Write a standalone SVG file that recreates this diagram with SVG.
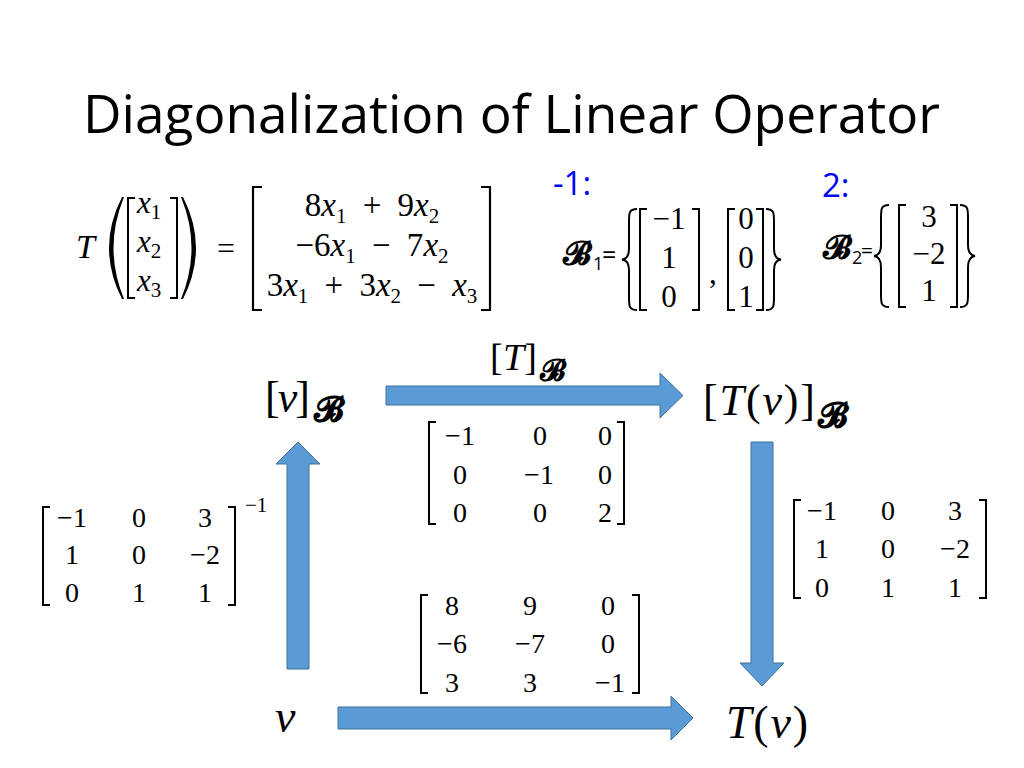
<svg xmlns="http://www.w3.org/2000/svg" width="1024" height="768" viewBox="0 0 1024 768">
<style>
.m{font-family:"Liberation Serif","DejaVu Serif",serif;fill:#000}
.i{font-style:italic}
.s{font-size:21px}
.cal{font-family:"Open Sans","Liberation Sans",sans-serif;fill:#000}
.blue{fill:#0000FF}
.sb{font-family:"DejaVu Sans","DejaVu Serif",serif;font-weight:bold;fill:#000}
.br{fill:none;stroke:#000;stroke-width:2}
.bb{fill:none;stroke:#000;stroke-width:2.2}
.arrow{fill:#5B9BD5;stroke:#41719C;stroke-width:1}
.c{text-anchor:middle}
.row{word-spacing:8px}
</style>
<rect width="1024" height="768" fill="#fff"/>
<g id="title">
<text class="cal" x="83" y="133" font-size="53" textLength="857" lengthAdjust="spacingAndGlyphs">Diagonalization of Linear Operator</text>
</g>
<g id="equation">
<text class="m i" x="76" y="258" font-size="34">T</text>
<path d="M122,197 Q96,248 122,299 L124,299 Q103,248 124,197 Z" fill="#000"/>
<path d="M183,197 Q209,248 183,299 L181,299 Q202,248 181,197 Z" fill="#000"/>
<path class="br" d="M135,198 L128,198 L128,298 L135,298"/>
<path class="br" d="M170,198 L177,198 L177,298 L170,298"/>
<text class="m" x="137" y="213" font-size="31"><tspan class="i">x</tspan><tspan class="s" dy="6">1</tspan></text>
<text class="m" x="137" y="252" font-size="31"><tspan class="i">x</tspan><tspan class="s" dy="6">2</tspan></text>
<text class="m" x="137" y="291" font-size="31"><tspan class="i">x</tspan><tspan class="s" dy="6">3</tspan></text>
<text class="m" x="217" y="259" font-size="32">=</text>
<path class="bb" d="M262,187 L253,187 L253,310 L262,310"/>
<path class="bb" d="M481,187 L490,187 L490,310 L481,310"/>
<text class="m c row" x="372" y="216" font-size="33">8<tspan class="i">x</tspan><tspan class="s" dy="7">1</tspan><tspan dy="-7"> + 9</tspan><tspan class="i">x</tspan><tspan class="s" dy="7">2</tspan></text>
<text class="m c row" x="372" y="256" font-size="33">−6<tspan class="i">x</tspan><tspan class="s" dy="7">1</tspan><tspan dy="-7"> − 7</tspan><tspan class="i">x</tspan><tspan class="s" dy="7">2</tspan></text>
<text class="m c row" x="372" y="296" font-size="33">3<tspan class="i">x</tspan><tspan class="s" dy="7">1</tspan><tspan dy="-7"> + 3</tspan><tspan class="i">x</tspan><tspan class="s" dy="7">2</tspan><tspan dy="-7"> − </tspan><tspan class="i">x</tspan><tspan class="s" dy="7">3</tspan></text>
</g>
<g id="eigen-minus1">
<text class="cal blue" x="553" y="195" font-size="33">-1:</text>
<text class="sb" x="563" y="264" font-size="32">𝓑</text>
<text class="cal" x="593" y="270" font-size="18">1</text>
<text class="cal" x="602" y="264" font-size="25">=</text>
<path class="br" d="M637,209 C629,209 629,213 629,222 L629,249 C629,256 626,259 622,259.5 C626,260 629,263 629,270 L629,297 C629,306 629,310 637,310"/>
<path class="br" d="M647,209 L640,209 L640,310 L647,310"/>
<path class="br" d="M692,209 L699,209 L699,310 L692,310"/>
<text class="m c" x="669" y="229" font-size="31">−1</text>
<text class="m c" x="669" y="268" font-size="31">1</text>
<text class="m c" x="669" y="307" font-size="31">0</text>
<text class="m" x="709" y="283" font-size="31">,</text>
<path class="br" d="M735,209 L728,209 L728,310 L735,310"/>
<path class="br" d="M756,209 L763,209 L763,310 L756,310"/>
<text class="m c" x="746" y="229" font-size="31">0</text>
<text class="m c" x="746" y="268" font-size="31">0</text>
<text class="m c" x="746" y="307" font-size="31">1</text>
<path class="br" d="M766,209 C774,209 774,213 774,222 L774,249 C774,256 777,259 781,259.5 C777,260 774,263 774,270 L774,297 C774,306 774,310 766,310"/>
</g>
<g id="eigen-2">
<text class="cal blue" x="822" y="197" font-size="33">2:</text>
<text class="sb" x="823" y="258" font-size="32">𝓑</text>
<text class="cal" x="852" y="264" font-size="18">2</text>
<text class="cal" x="861" y="258" font-size="21">=</text>
<path class="br" d="M889,205 C881,205 881,209 881,218 L881,245 C881,252 878,255.5 874,256 C878,256.5 881,260 881,267 L881,294 C881,303 881,307 889,307"/>
<path class="br" d="M906,205 L899,205 L899,307 L906,307"/>
<path class="br" d="M950,205 L957,205 L957,307 L950,307"/>
<text class="m c" x="929" y="227" font-size="31">3</text>
<text class="m c" x="929" y="264" font-size="31">−2</text>
<text class="m c" x="929" y="301" font-size="31">1</text>
<path class="br" d="M960,205 C968,205 968,209 968,218 L968,245 C968,252 971,255.5 975,256 C971,256.5 968,260 968,267 L968,294 C968,303 968,307 960,307"/>
</g>
<g id="node-vB">
<text class="m" x="265" y="412" font-size="44" textLength="45" lengthAdjust="spacing">[<tspan class="i">v</tspan>]</text>
<text class="sb" x="314" y="421" font-size="34">𝓑</text>
</g>
<g id="node-TvB">
<text class="m" x="703" y="415" font-size="44" textLength="112" lengthAdjust="spacing">[<tspan class="i">T</tspan>(<tspan class="i">v</tspan>)]</text>
<text class="sb" x="818" y="427" font-size="34">𝓑</text>
</g>
<g id="node-v">
<text class="m i" x="275" y="732" font-size="46">v</text>
</g>
<g id="node-Tv">
<text class="m" x="726" y="738" font-size="46" textLength="82" lengthAdjust="spacing"><tspan class="i">T</tspan>(<tspan class="i">v</tspan>)</text>
</g>
<g id="connectors">
<path class="arrow" d="M386,386 L660,386 L660,373 L683,395.5 L660,418 L660,405 L386,405 Z"/>
<path class="arrow" d="M287,669 L287,464 L276,464 L298,442 L320,464 L309,464 L309,669 Z"/>
<path class="arrow" d="M751,442 L773,442 L773,663 L784,663 L762,686 L740,663 L751,663 Z"/>
<path class="arrow" d="M338,707 L671,707 L671,696 L693,718 L671,740 L671,729 L338,729 Z"/>
</g>
<g id="label-TB">
<text class="m" x="490" y="370" font-size="38" textLength="47" lengthAdjust="spacing">[<tspan class="i">T</tspan>]</text>
<text class="sb" x="540" y="380" font-size="29">𝓑</text>
</g>
<g id="matrix-diag">
<path class="br" d="M436,422 L429,422 L429,524 L436,524"/>
<path class="br" d="M617,422 L624,422 L624,524 L617,524"/>
<g class="m c" font-size="28">
<text x="460" y="445">−1</text><text x="540" y="445">0</text><text x="605" y="445">0</text>
<text x="460" y="484">0</text><text x="539" y="484">−1</text><text x="605" y="484">0</text>
<text x="460" y="522">0</text><text x="540" y="522">0</text><text x="605" y="522">2</text>
</g>
</g>
<g id="matrix-left">
<path class="br" d="M50,507 L43,507 L43,605 L50,605"/>
<path class="br" d="M228,507 L235,507 L235,605 L228,605"/>
<g class="m c" font-size="28">
<text x="72" y="527">−1</text><text x="139" y="527">0</text><text x="205" y="527">3</text>
<text x="72" y="564">1</text><text x="139" y="564">0</text><text x="205" y="564">−2</text>
<text x="72" y="602">0</text><text x="139" y="602">1</text><text x="205" y="602">1</text>
</g>
<text class="m" x="245" y="512" font-size="21">−1</text>
</g>
<g id="matrix-right">
<path class="br" d="M801,500 L794,500 L794,598 L801,598"/>
<path class="br" d="M979,500 L986,500 L986,598 L979,598"/>
<g class="m c" font-size="28">
<text x="822" y="520">−1</text><text x="888" y="520">0</text><text x="955" y="520">3</text>
<text x="822" y="558">1</text><text x="888" y="558">0</text><text x="955" y="558">−2</text>
<text x="822" y="597">0</text><text x="888" y="597">1</text><text x="955" y="597">1</text>
</g>
</g>
<g id="matrix-bottom">
<path class="br" d="M428,595 L421,595 L421,693 L428,693"/>
<path class="br" d="M632,595 L639,595 L639,693 L632,693"/>
<g class="m c" font-size="28">
<text x="452" y="615">8</text><text x="530" y="615">9</text><text x="608" y="615">0</text>
<text x="452" y="653">−6</text><text x="530" y="653">−7</text><text x="608" y="653">0</text>
<text x="452" y="692">3</text><text x="530" y="692">3</text><text x="610" y="692">−1</text>
</g>
</g>
</svg>
